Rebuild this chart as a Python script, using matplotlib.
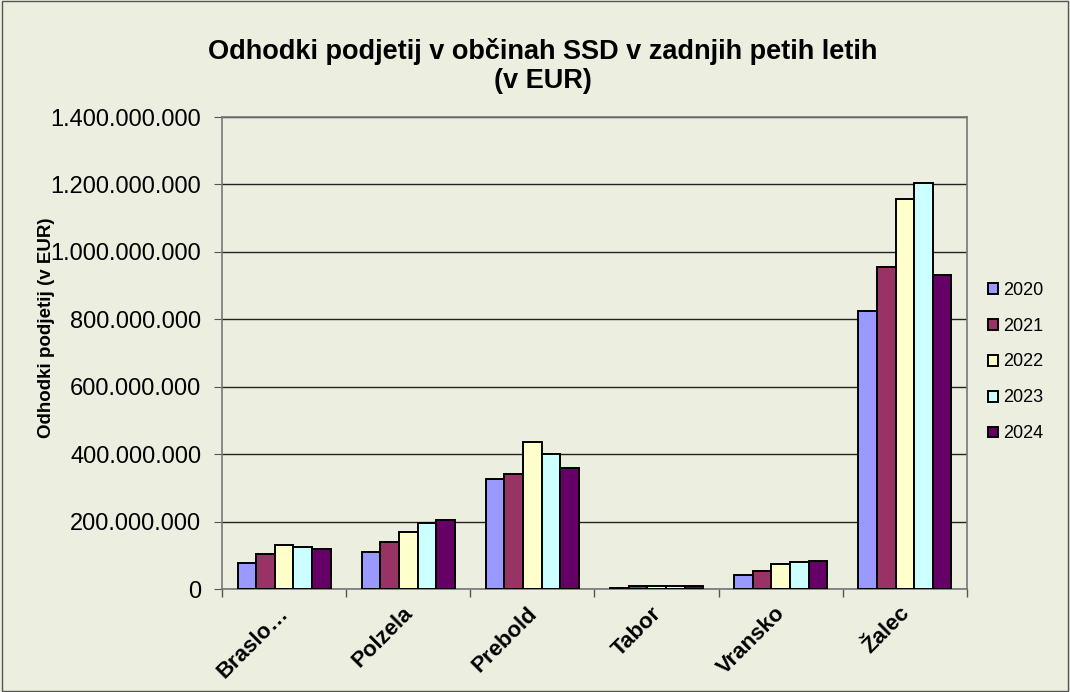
import numpy as np
import matplotlib
matplotlib.use('Agg')
import matplotlib.pyplot as plt
import matplotlib.transforms as mtransforms
from matplotlib.ticker import FuncFormatter, FixedLocator

# data
municipalities = ['Braslo…', 'Polzela', 'Prebold', 'Tabor', 'Vransko', 'Žalec']
years = ['2020', '2021', '2022', '2023', '2024']
v2020 = [78e6, 109e6, 327e6, 4e6, 42e6, 825e6]
v2021 = [104e6, 139e6, 340e6, 8e6, 54e6, 955e6]
v2022 = [131e6, 170e6, 437e6, 10e6, 73e6, 1158e6]
v2023 = [124e6, 197e6, 400e6, 10e6, 79e6, 1204e6]
v2024 = [120e6, 205e6, 360e6, 10e6, 84e6, 931e6]
series = [v2020, v2021, v2022, v2023, v2024]
colors = ['#9999FF', '#993366', '#FFFFCC', '#CCFFFF', '#660066']

bg = '#ECEEDF'
plt.rcParams['font.family'] = ['Liberation Sans', 'DejaVu Sans']

fig = plt.figure(figsize=(10.7, 6.92), dpi=100, facecolor=bg)
fig.patches.append(plt.Rectangle((0.002, 0.002), 0.996, 0.996, transform=fig.transFigure,
                                 fill=False, edgecolor='#555555', linewidth=1))
ax = fig.add_axes([0.2075, 0.1488, 0.6962, 0.6821])
ax.set_facecolor(bg)

x = np.arange(len(municipalities))
width = 0.15
for i, (vals, col) in enumerate(zip(series, colors)):
    ax.bar(x + (i - 2) * width, vals, width, color=col, edgecolor='black',
           linewidth=1.4, label=years[i], zorder=3)

ax.set_xlim(-0.5, len(municipalities) - 0.5)
ax.set_ylim(0, 1.4e9)
ax.set_yticks(np.arange(0, 1.4e9 + 1, 2e8))
ax.yaxis.set_major_formatter(FuncFormatter(lambda v, p: f'{int(v):,}'.replace(',', '.')))
ax.grid(axis='y', color='#222222', linewidth=1, zorder=1)

ax.set_xticks(x)
ax.set_xticklabels(municipalities, rotation=45, ha='right', rotation_mode='anchor',
                   fontsize=16, fontweight='bold')
ax.tick_params(axis='x', length=0, pad=10)
# nudge the rotated labels a little left like in the original
offset = mtransforms.ScaledTranslation(-6 / 100, 0, fig.dpi_scale_trans)
for lbl in ax.get_xticklabels():
    lbl.set_transform(lbl.get_transform() + offset)
ax.xaxis.set_minor_locator(FixedLocator(np.arange(-0.5, len(municipalities), 1)))
ax.tick_params(axis='x', which='minor', length=6, color='#555555', width=1)
ax.tick_params(axis='y', labelsize=17, length=6, color='#555555', pad=9)

for s in ax.spines.values():
    s.set_color('#777777')
    s.set_linewidth(1.2)

ax.set_ylabel('Odhodki podjetij (v EUR)', fontsize=13.5, fontweight='bold')
ax.yaxis.set_label_coords(-0.224, 0.553)
fig.text(0.507, 0.905, 'Odhodki podjetij v občinah SSD v zadnjih petih letih\n(v EUR)',
         ha='center', va='center', fontsize=19.5, fontweight='bold', linespacing=1.15)

leg = ax.legend(loc='center left', bbox_to_anchor=(1.007, 0.481), frameon=False,
                fontsize=13, handlelength=0.55, handleheight=0.55, handletextpad=0.25,
                labelspacing=1.05)

fig.savefig('out.png', dpi=100, facecolor=bg)
